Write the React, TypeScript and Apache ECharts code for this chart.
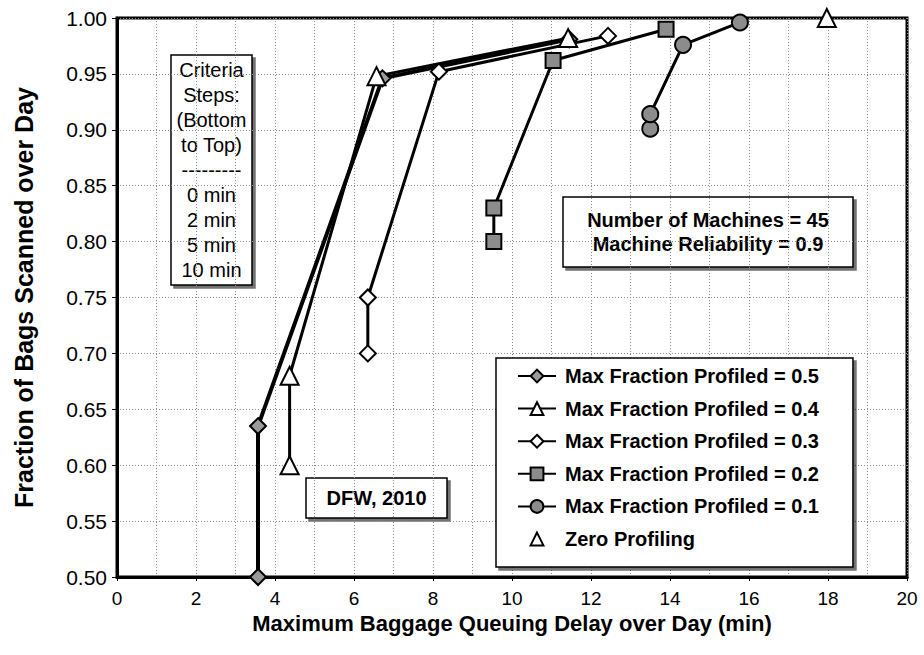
import React, { useEffect, useRef } from "react";
import * as echarts from "echarts";

const xTicks = [0, 2, 4, 6, 8, 10, 12, 14, 16, 18, 20];
const yTicks = [0.5, 0.55, 0.6, 0.65, 0.7, 0.75, 0.8, 0.85, 0.9, 0.95, 1.0];

const seriesNames = [
  "Max Fraction Profiled = 0.5",
  "Max Fraction Profiled = 0.4",
  "Max Fraction Profiled = 0.3",
  "Max Fraction Profiled = 0.2",
  "Max Fraction Profiled = 0.1",
  "Zero Profiling",
];

const mfp05 = [[3.57, 0.5], [3.57, 0.635], [6.72, 0.946], [11.45, 0.981]];
const mfp04 = [[4.37, 0.6], [4.37, 0.68], [6.57, 0.948], [11.42, 0.982]];
const mfp03 = [[6.35, 0.7], [6.35, 0.75], [8.15, 0.952], [12.43, 0.984]];
const mfp02 = [[9.54, 0.8], [9.54, 0.83], [11.04, 0.962], [13.9, 0.99]];
const mfp01 = [[13.5, 0.901], [13.5, 0.914], [14.33, 0.976], [15.77, 0.996]];
const zeroProfiling = [[17.97, 1.0]];

const criteriaText = "Criteria\nSteps:\n(Bottom\nto Top)\n---------\n0 min\n2 min\n5 min\n10 min";
const machinesText = "Number of Machines = 45\nMachine Reliability = 0.9";
const siteText = "DFW, 2010";

const SANS = '"Liberation Sans", Arial, sans-serif';

function boxGroup(x: number, y: number, w: number, h: number, text: string, font: string, lineHeight: number) {
  return {
    type: "group",
    x,
    y,
    z: 100,
    children: [
      {
        type: "rect",
        shape: { x: 0, y: 0, width: w, height: h },
        style: {
          fill: "#fff",
          stroke: "#000",
          lineWidth: 1.5,
          shadowColor: "rgba(0,0,0,0.55)",
          shadowOffsetX: 3,
          shadowOffsetY: 3,
          shadowBlur: 0,
        },
      },
      {
        type: "text",
        style: {
          text,
          x: w / 2,
          y: h / 2,
          textAlign: "center",
          textVerticalAlign: "middle",
          font,
          lineHeight,
          fill: "#000",
        },
      },
    ],
  };
}

export default function App() {
  const ref = useRef<HTMLDivElement>(null);
  useEffect(() => {
    if (!ref.current) return;
    const chart = echarts.init(ref.current, null, { renderer: "svg" });
    const lineSeries = (name: string, data: number[][], symbol: string, size: number, fill: string, width: number) => ({
      name,
      type: "line",
      data,
      symbol,
      symbolSize: size,
      showSymbol: true,
      lineStyle: { color: "#000", width },
      itemStyle: { color: fill, borderColor: "#000", borderWidth: 2 },
      emphasis: { disabled: true },
      z: 5,
    });
    const gridLine = { show: true, lineStyle: { color: "#8a8a8a", width: 1, type: [1, 2] } };
    chart.setOption({
      animation: false,
      backgroundColor: "#fff",
      grid: {
        left: 117,
        right: 17,
        top: 18,
        bottom: 78,
        show: true,
        borderColor: "#000",
        borderWidth: 3,
        backgroundColor: "transparent",
      },
      xAxis: {
        type: "value",
        min: xTicks[0],
        max: xTicks[xTicks.length - 1],
        interval: 2,
        name: "Maximum Baggage Queuing Delay over Day (min)",
        nameLocation: "middle",
        nameGap: 33,
        nameTextStyle: { fontFamily: SANS, fontWeight: "bold", fontSize: 22, color: "#000" },
        axisLine: { show: true, lineStyle: { color: "#000", width: 3 } },
        axisTick: { show: true, length: 4, lineStyle: { color: "#000", width: 1 } },
        axisLabel: { fontFamily: SANS, fontSize: 19, color: "#000", margin: 12 },
        splitLine: gridLine,
        minorTick: { show: false, splitNumber: 2 },
        minorSplitLine: gridLine,
      },
      yAxis: {
        type: "value",
        min: yTicks[0],
        max: yTicks[yTicks.length - 1],
        interval: 0.05,
        name: "Fraction of Bags Scanned over Day",
        nameLocation: "middle",
        nameGap: 81,
        nameTextStyle: { fontFamily: SANS, fontWeight: "bold", fontSize: 25, color: "#000" },
        axisLine: { show: true, lineStyle: { color: "#000", width: 3 } },
        axisTick: { show: true, length: 5, lineStyle: { color: "#000", width: 1 } },
        axisLabel: {
          fontFamily: SANS,
          fontSize: 21,
          color: "#000",
          margin: 10,
          formatter: (v: number) => v.toFixed(2),
        },
        splitLine: gridLine,
      },
      legend: {
        orient: "vertical",
        left: 496,
        top: 358,
        data: seriesNames,
        padding: [8, 34, 18, 21],
        itemWidth: 38,
        itemHeight: 16,
        itemGap: 12.6,
        backgroundColor: "#fff",
        borderColor: "#000",
        borderWidth: 1.5,
        shadowColor: "rgba(0,0,0,0.55)",
        shadowOffsetX: 3,
        shadowOffsetY: 3,
        shadowBlur: 0,
        textStyle: { fontFamily: SANS, fontWeight: "bold", fontSize: 20, color: "#000", padding: [0, 0, 0, 4] },
        selectedMode: false,
        z: 100,
      },
      graphic: [
        boxGroup(171, 55, 81, 230, criteriaText, `20px ${SANS}`, 25),
        boxGroup(563, 197, 290, 70, machinesText, `bold 20px ${SANS}`, 24),
        boxGroup(306, 478, 141, 40, siteText, `bold 20px ${SANS}`, 22),
      ],
      series: [
        lineSeries(seriesNames[0], mfp05, "diamond", 16, "#9a9a9a", 4),
        lineSeries(seriesNames[1], mfp04, "triangle", 18, "#ffffff", 3),
        lineSeries(seriesNames[2], mfp03, "diamond", 16, "#ffffff", 3),
        lineSeries(seriesNames[3], mfp02, "rect", 15, "#8c8c8c", 3),
        lineSeries(seriesNames[4], mfp01, "circle", 16, "#8c8c8c", 3),
        {
          name: seriesNames[5],
          type: "line",
          data: zeroProfiling,
          symbol: "triangle",
          symbolSize: 18,
          lineStyle: { width: 0, color: "#fff", opacity: 0 },
          itemStyle: { color: "#fff", borderColor: "#000", borderWidth: 2 },
          emphasis: { disabled: true },
          z: 5,
        },
      ],
    });
    return () => chart.dispose();
  }, []);
  return <div ref={ref} style={{ position: "absolute", left: 0, top: 0, width: 924, height: 655 }} />;
}
